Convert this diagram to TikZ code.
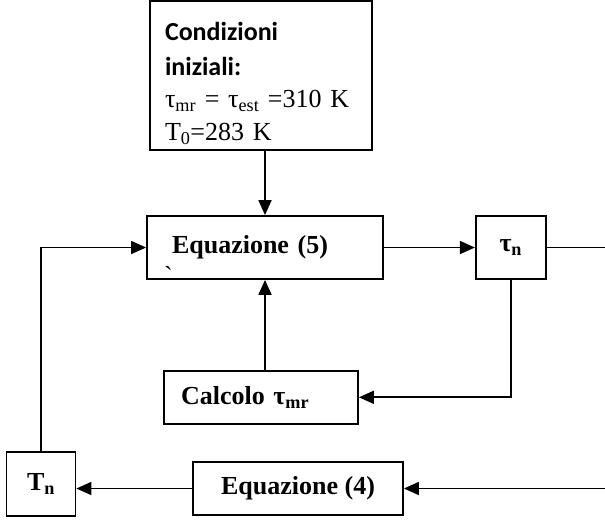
\documentclass[tikz,border=0pt]{standalone}
\usepackage{fontspec}
\setmainfont{Liberation Serif}
\newfontfamily\calibri{Carlito}
\usetikzlibrary{arrows.meta,positioning}

\begin{document}
\begin{tikzpicture}[
  x=1pt,y=-1pt,
  >={Triangle[length=15pt,width=13pt]},
  block/.style={draw,line width=1.8pt,inner xsep=13pt,inner ysep=0pt,minimum height=63pt,
    font=\fontsize{26}{33}\selectfont\bfseries},
  link/.style={line width=1.8pt,->},
  every node/.style={font=\fontsize{26}{33}\selectfont}
]
  \useasboundingbox (0,0) rectangle (605,520);
  \node[block,minimum width=236pt,text width=210pt,align=left] (eq5) at (265,247.5)
    {\hspace*{12pt}Equazione (5)};
  \node[anchor=base west,inner sep=0pt] (tick) at (164,284) {\textasciigrave};
  \node[block,minimum width=70pt,right=91pt of eq5] (taun) {τ\textsubscript{n}};
  \node[block,minimum width=222pt,minimum height=149pt,text width=192pt,inner xsep=15pt,
    align=left,font=\fontsize{26}{33}\selectfont,above=64pt of eq5,xshift=-4pt] (cond)
    {\rule{0pt}{34pt}{\calibri\bfseries Condizioni}\\[2pt]
     {\calibri\bfseries iniziali:}\\[-1pt]
     τ\textsubscript{mr} = τ\textsubscript{est} =310 K\\
     T\textsubscript{0}=283 K};
  \node[block,minimum width=194pt,minimum height=53pt,text width=168pt,align=left,
    below=90pt of eq5,xshift=-4pt] (calc)
    {\hspace*{4pt}Calcolo τ\textsubscript{mr}};
  \node[block,minimum width=69pt,minimum height=64pt] (tn) at (41,484) {T\textsubscript{n}};
  \node[block,minimum width=210pt,minimum height=53pt] (eq4) at (298,488.5) {Equazione (4)};
  \coordinate (outR) at (605,247.5);
  \coordinate (inR) at (605,488.5);

  \draw[link] (eq5.north |- cond.south) -- (eq5.north);
  \draw[link] (eq5) -- (taun);
  \draw[line width=1.8pt] (taun) -- (outR);
  \draw[link] (taun.south) |- (calc.east);
  \draw[link] (eq5.south |- calc.north) -- (eq5.south);
  \draw[link] (inR) -- (eq4);
  \draw[link] (eq4) -- (eq4.west -| tn.east);
  \draw[link] (tn.north) |- (eq5.west);
\end{tikzpicture}
\end{document}
